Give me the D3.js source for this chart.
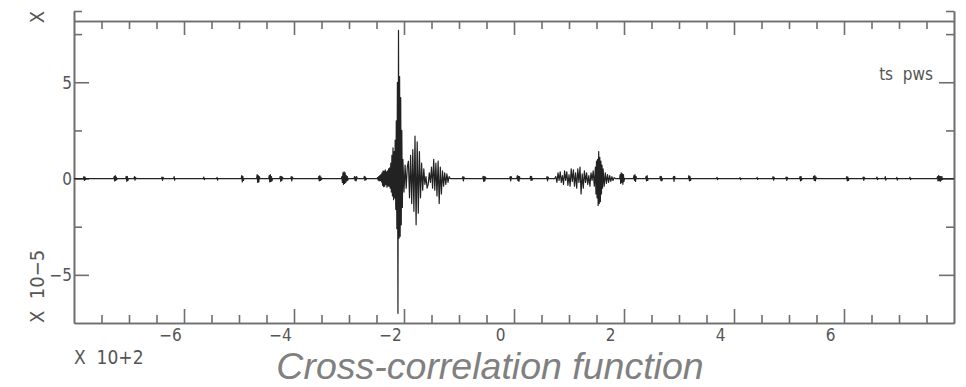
<!DOCTYPE html>
<html>
<head>
<meta charset="utf-8">
<script src="https://cdn.jsdelivr.net/npm/d3@7"></script>
<style>
  html, body { margin: 0; padding: 0; background: #fff; }
  svg { display: block; }
  .lbl { font-family: "Liberation Sans Narrow", "DejaVu Sans Condensed", "Liberation Sans", sans-serif; fill: #555; }
</style>
</head>
<body>
<svg id="chart" width="966" height="387"></svg>
<script>
// Lag axis in units of 100 s, amplitude in units of 1e-5
const xMajorTicks = [-6, -4, -2, 0, 2, 4, 6];
const xTickLabels = ["\u22126", "\u22124", "\u22122", "0", "2", "4", "6"];
const yMajorTicks = [-5, 0, 5];
const yTickLabels = ["\u22125", "0", "5"];
const yMinorTicks = [-2.5, 2.5, 7.5];

// Main arrival near lag -2: precursor and main pulse, sampled every 0.01
const mainPulseStart = -2.48;
const mainPulseStep = 0.01;
const mainPulse = [
  0.05, -0.08, 0.1, -0.12, 0.15, -0.1, 0.2, -0.18,
  0.3, -0.35, 0.4, -0.42, 0.38, -0.4, 0.45, -0.3, 0.35, -0.45, 0.4, -0.38, 0.5, -0.4, 0.55, -0.5,
  0.8, -0.7, 1.2, -0.9, 1.6, -1.1, 1.4, -1.0,
  2.0, -1.6, 3.0, -2.6, 5.0, -7.0, 7.7, -3.1, 5.3, -3.0, 4.2, -2.4, 2.5, -1.5
];

// Coda wave packets following the main pulse, sampled every 0.02
const codaStart = -2.02;
const codaStep = 0.02;
const coda = [
  1.0, -0.7, 0.7, -0.5, 0.6,
  0.9, -1.0, 1.2, -1.3, 1.5, -1.7, 2.2, -2.4, 1.9, -1.8, 1.4, -1.0, 0.8, -0.6, 0.5, -0.3,
  0.1, -0.5, -0.3, 0.3, -0.2,
  0.6, -0.5, 1.0, -0.6, 0.8, -0.9, 0.9, -1.3, 0.6, -0.8, 0.4, -0.4,
  0.3, -0.3, 0.25, -0.2, 0.1, 0
];

// Weaker arrival on the positive lag side
const laterPacketStart = 0.76;
const laterPacketStep = 0.02;
const laterPacket = [
  0.1, -0.2, 0.3, -0.1, 0.35, -0.2, 0.15, -0.3, 0.4, -0.1, 0.35, -0.35, 0.2, -0.4, 0.5, -0.15, 0.45, -0.4,
  0.3, -0.5, 0.5, -0.2, 0.6, -0.8, 0.25, -0.5, 0.4, -0.2,
  0.3, -0.3, 0.15, -0.4, 0.3, -0.1, 0.4, -0.4
];
const laterSpikeStart = 1.48;
const laterSpikeStep = 0.01;
const laterSpike = [0.6, -0.8, 0.9, -1.0, 1.0, -1.4, 1.4, -1.3, 1.1, -1.2, 0.9, -0.8, 0.7, -0.5, 0.5];
const laterTailStart = 1.64;
const laterTailStep = 0.02;
const laterTail = [-0.4, 0.3, -0.25, 0.2, -0.2, 0.15, -0.15, 0.1, -0.1, 0.05, 0];

// Small background wiggles along the quiet parts of the trace
const wiggleStep = 0.01;
const wiggleStarts = [
  -7.82, -7.27, -7.05, -6.9, -6.4, -6.18, -5.64, -5.4, -4.95, -4.67, -4.45, -4.25, -4.05,
  -3.55, -3.13, -2.9, -2.72,
  -0.93, -0.56, -0.07, 0.06, 0.3, 0.6,
  1.93, 2.18, 2.4, 2.66, 2.9, 3.18, 3.69, 4.11, 4.42, 4.71, 4.95, 5.2, 5.45,
  6.05, 6.35, 6.6, 6.75, 6.96, 7.2, 7.7
];
const wiggleValues = [
  [0.1, -0.1, 0.08, -0.05],
  [0.1, -0.12, 0.15, -0.1, 0.08, -0.05],
  [0.12, -0.15, 0.1, -0.1],
  [0.1, -0.08, 0.06],
  [0.08, -0.1, 0.06],
  [0.1, -0.08],
  [0.08, -0.06],
  [0.06, -0.08],
  [0.15, -0.18, 0.12, -0.1],
  [0.2, -0.2, 0.15, -0.18, 0.1],
  [0.15, -0.18, 0.2, -0.15, 0.1, -0.12],
  [0.12, -0.15, 0.1, -0.1, 0.08],
  [0.1, -0.12, 0.08],
  [0.1, -0.12, 0.15, -0.1, 0.08, -0.06],
  [0.1, -0.2, 0.3, -0.3, 0.35, -0.25, 0.3, -0.2, 0.15, -0.12, 0.1, -0.08],
  [0.1, -0.1, 0.08, -0.12, 0.1],
  [0.12, -0.1, 0.08, -0.06],
  [0.1, -0.12, 0.08],
  [0.12, -0.15, 0.1, -0.12, 0.08],
  [0.1, -0.12, 0.1],
  [0.15, -0.1, 0.12, -0.15, 0.1],
  [0.12, -0.1, 0.1, -0.08],
  [0.1, -0.12, 0.08],
  [0.2, -0.25, 0.3, -0.2, 0.25, -0.3, 0.2, -0.15],
  [0.15, -0.1, 0.2, -0.15, 0.1],
  [0.1, -0.12, 0.15, -0.1],
  [0.12, -0.1, 0.1, -0.12],
  [0.1, -0.15, 0.12],
  [0.15, -0.12, 0.1, -0.1],
  [0.06, -0.06],
  [0.05, -0.06],
  [0.06, -0.05],
  [0.1, -0.08, 0.06],
  [0.08, -0.1, 0.06],
  [0.1, -0.12, 0.1, -0.08],
  [0.12, -0.1, 0.15, -0.12, 0.08],
  [0.1, -0.12, 0.08, -0.1],
  [0.08, -0.1, 0.06],
  [0.08, -0.06],
  [0.1, -0.08],
  [0.06, -0.08],
  [0.07, -0.06],
  [0.1, -0.12, 0.15, -0.1, 0.12, -0.15, 0.1, -0.08, 0.1, -0.05]
];

const lagDomain = [-8, 8];
const ampDomain = [-7.5, 8.7];

// ---- build the trace as (lag, amplitude) samples ----
// Each segment sits on the zero baseline: one baseline sample before and after it.
const segments = [
  { start: mainPulseStart, step: mainPulseStep, values: mainPulse },
  { start: codaStart, step: codaStep, values: coda },
  { start: laterPacketStart, step: laterPacketStep, values: laterPacket },
  { start: laterSpikeStart, step: laterSpikeStep, values: laterSpike },
  { start: laterTailStart, step: laterTailStep, values: laterTail }
];
wiggleStarts.forEach((s, i) => segments.push({ start: s, step: wiggleStep, values: wiggleValues[i] }));
segments.sort((a, b) => a.start - b.start);

const trace = [[lagDomain[0], 0]];
segments.forEach((seg, k) => {
  const prev = segments[k - 1];
  const touchesPrev = prev && Math.abs(prev.start + prev.values.length * prev.step - seg.start) < 0.011;
  if (!touchesPrev) trace.push([seg.start - seg.step, 0]);
  seg.values.forEach((v, i) => trace.push([seg.start + i * seg.step, v]));
  const next = segments[k + 1];
  const end = seg.start + seg.values.length * seg.step;
  const touchesNext = next && Math.abs(next.start - end) < 0.011;
  if (!touchesNext) trace.push([end, 0]);
});
trace.push([lagDomain[1], 0]);

// ---- layout ----
const svg = d3.select("#chart");
const plotLeft = 74, plotRight = 954, plotBottom = 323, plotTop = 11, frameTop = 21;

const x = d3.scaleLinear().domain(lagDomain).range([plotLeft, plotRight]);
const y = d3.scaleLinear().domain(ampDomain).range([plotBottom, plotTop]);

const axisColor = "#6e6e6e";
const tickFont = '"Liberation Sans Narrow", "DejaVu Sans Condensed", sans-serif';
function styleAxis(g) {
  g.selectAll("path, line").attr("stroke", axisColor).attr("stroke-width", 1.6);
  g.selectAll("text").remove();
}

const xMinor = d3.range(-7.5, 8, 0.5).filter(v => Math.abs(v % 2) > 1e-9);

// bottom axis
svg.append("g").attr("transform", `translate(0,${plotBottom})`)
  .call(d3.axisBottom(x).tickValues(xMinor).tickSize(-8).tickSizeOuter(0)).call(styleAxis);
const bAxis = svg.append("g").attr("transform", `translate(0,${plotBottom})`)
  .call(d3.axisBottom(x).tickValues(xMajorTicks).tickSize(-14).tickSizeOuter(0));
bAxis.selectAll("path, line").attr("stroke", axisColor).attr("stroke-width", 1.6);
bAxis.selectAll("text")
  .text((d, i) => xTickLabels[i])
  .attr("x", -14).attr("y", 18).attr("dy", 0)
  .style("font-size", "17px").style("fill", "#555")
  .style("font-family", tickFont);

// top axis
svg.append("g").attr("transform", `translate(0,${frameTop})`)
  .call(d3.axisTop(x).tickValues(xMinor).tickSize(-8).tickSizeOuter(0)).call(styleAxis);
svg.append("g").attr("transform", `translate(0,${frameTop})`)
  .call(d3.axisTop(x).tickValues(xMajorTicks).tickSize(-14).tickSizeOuter(0)).call(styleAxis);

// left axis
const yMinorAll = yMinorTicks.concat([ampDomain[1]]);
svg.append("g").attr("transform", `translate(${plotLeft},0)`)
  .call(d3.axisLeft(y).tickValues(yMinorAll).tickSize(-8).tickSizeOuter(0)).call(styleAxis);
const lAxis = svg.append("g").attr("transform", `translate(${plotLeft},0)`)
  .call(d3.axisLeft(y).tickValues(yMajorTicks).tickSize(-15).tickSizeOuter(0));
lAxis.selectAll("path, line").attr("stroke", axisColor).attr("stroke-width", 1.6);
lAxis.selectAll("text")
  .text((d, i) => yTickLabels[i])
  .attr("x", -2).attr("dy", "0.36em")
  .style("font-size", "17px").style("fill", "#555")
  .style("font-family", tickFont);

// right axis
svg.append("g").attr("transform", `translate(${plotRight},0)`)
  .call(d3.axisRight(y).tickValues(yMinorAll).tickSize(-8).tickSizeOuter(0)).call(styleAxis);
svg.append("g").attr("transform", `translate(${plotRight},0)`)
  .call(d3.axisRight(y).tickValues(yMajorTicks).tickSize(-15).tickSizeOuter(0)).call(styleAxis);

// trace
const line = d3.line().x(d => x(d[0])).y(d => y(d[1]));
svg.append("path")
  .datum(trace)
  .attr("d", line)
  .attr("fill", "none")
  .attr("stroke", "#222")
  .attr("stroke-width", 1.2)
  .attr("stroke-linejoin", "round");

// labels
svg.append("text").attr("class", "lbl")
  .attr("x", 933).attr("y", 80)
  .attr("text-anchor", "end")
  .style("font-size", "17px")
  .text("ts\u00a0\u00a0pws");

svg.append("text").attr("class", "lbl")
  .attr("transform", "translate(44,323) rotate(-90)")
  .style("font-size", "20px")
  .text("X\u00a0\u00a010\u22125");

svg.append("text").attr("class", "lbl")
  .attr("transform", "translate(44,17) rotate(-90)")
  .attr("text-anchor", "middle")
  .style("font-size", "20px")
  .text("X");

svg.append("text").attr("class", "lbl")
  .attr("x", 74).attr("y", 364)
  .style("font-size", "19px")
  .text("X\u00a0\u00a010+2");

svg.append("text")
  .attr("x", 490).attr("y", 379)
  .attr("text-anchor", "middle")
  .style("font-family", '"Liberation Sans", Arial, sans-serif')
  .style("font-style", "italic")
  .style("font-size", "37.5px")
  .style("fill", "#808080")
  .text("Cross-correlation function");
</script>
</body>
</html>
